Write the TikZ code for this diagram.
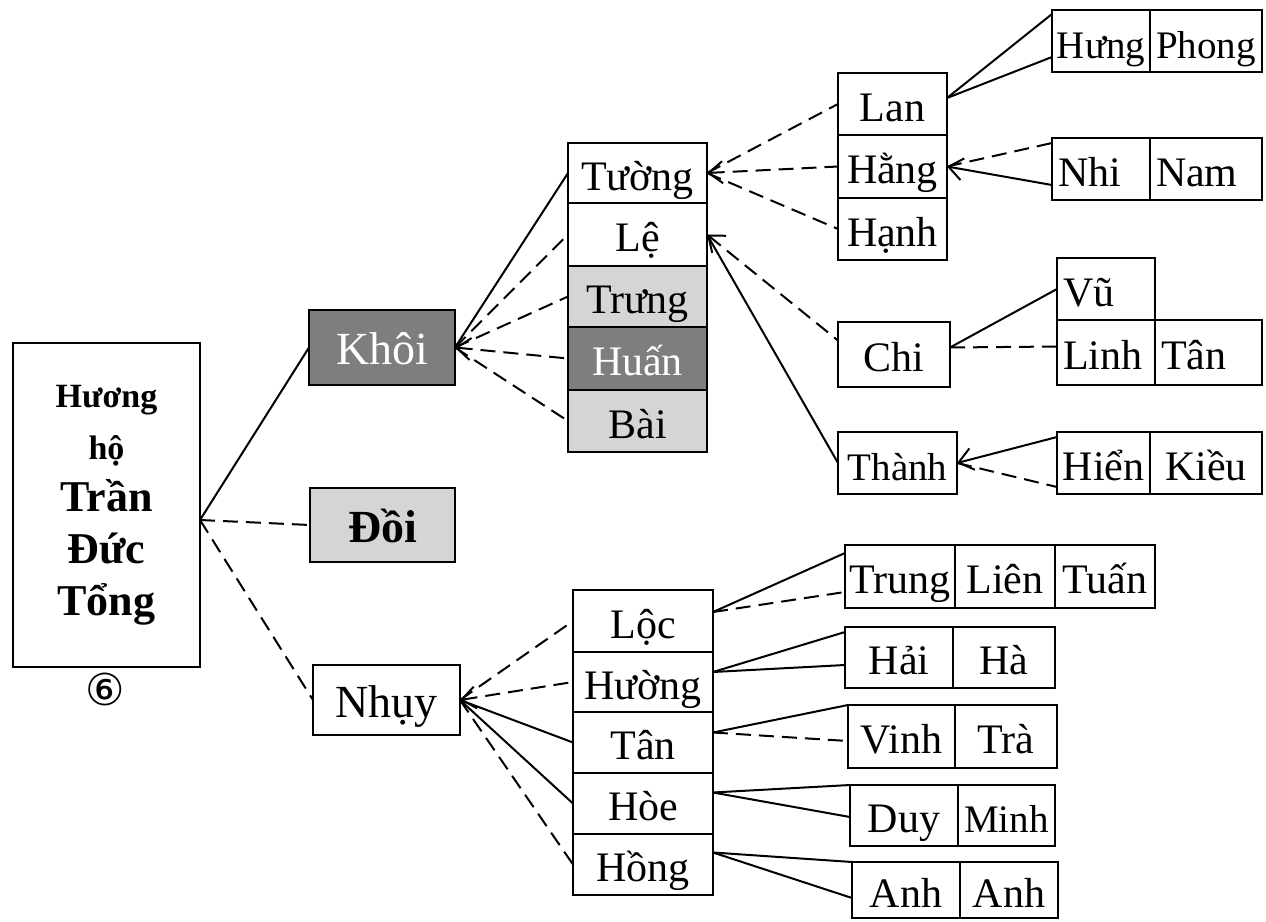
\documentclass[tikz,border=0pt]{standalone}
\usepackage{fontspec}
\setmainfont{Liberation Serif}
\newfontfamily\symfont{DejaVu Sans}
\usetikzlibrary{arrows.meta}

\definecolor{shadelight}{HTML}{D5D5D5}
\definecolor{shadedark}{HTML}{7E7E7E}

% a box given by its corners (x1,y1) and (x2,y2), in pixel-like units
\newcommand\cellbox[7]{%
  \node[#1, minimum width={(#5-#3)*0.5pt}, minimum height={(#6-#4)*0.5pt}]
    (#2) at ({(#3+#5)/2},{(#4+#6)/2}) {#7};}
% the same box with its text set flush left
\newcommand\lcellbox[7]{%
  \pgfmathsetmacro\cellwd{(#5-#3)*0.5}%
  \cellbox{#1}{#2}{#3}{#4}{#5}{#6}{\makebox[\cellwd pt][l]{\hspace{3pt}#7}}}

\tikzset{
  cell/.style={draw, line width=1pt, fill=white, inner sep=0pt, outer sep=0pt,
    font=\fontsize{21}{24}\selectfont, text height=21pt, text depth=4pt},
  tightcell/.style={cell, font=\fontsize{19.5}{24}\selectfont},
  bigcell/.style={cell, font=\fontsize{23}{26}\selectfont},
  lightcell/.style={cell, fill=shadelight},
  darkcell/.style={cell, fill=shadedark, text=white},
  rootbox/.style={draw, line width=1pt, inner sep=0pt, outer sep=0pt, align=center,
    font=\bfseries\fontsize{22}{26}\selectfont},
  plainlink/.style={line width=1pt},
  dashlink/.style={line width=1pt, dash pattern=on 7.5pt off 4pt},
  tipped/.style={arrows={Straight Barb[length=7pt,width=11pt,line width=1pt]-}},
}

\begin{document}
\begin{tikzpicture}[x=0.5pt, y=-0.5pt]
\useasboundingbox (0,0) rectangle (1266,922);

% family head
\cellbox{rootbox}{root}{13}{343}{200}{667}{%
  {\fontsize{17}{26}\selectfont Hương}\\ {\fontsize{17}{26}\selectfont hộ}\\ Trần\\ Đức\\ Tổng}
\node[font=\symfont\fontsize{22}{24}\selectfont] (six) at (105,689) {⑥};

% second generation
\cellbox{bigcell, fill=shadedark, text=white}{Khoi}{309}{310}{455}{385}{Khôi}
\cellbox{bigcell, fill=shadelight, font=\bfseries\fontsize{23}{26}\selectfont}{Doi}{310}{488}{455}{562}{Đồi}
\cellbox{bigcell}{Nhuy}{313}{665}{460}{735}{Nhụy}

% children of Khôi
\cellbox{cell}{Tuong}{568}{143}{707}{203}{Tường}
\cellbox{cell}{Le}{568}{203}{707}{266}{Lệ}
\cellbox{lightcell}{Trg}{568}{266}{707}{327}{Trưng}
\cellbox{darkcell}{Huan}{568}{327}{707}{390}{Huấn}
\cellbox{lightcell}{Bai}{568}{390}{707}{452}{Bài}

% children of Tường
\cellbox{cell}{Lan}{838}{73}{947}{135}{Lan}
\cellbox{cell}{Hang}{838}{135}{947}{198}{Hằng}
\cellbox{cell}{Hanh}{838}{198}{947}{260}{Hạnh}

\cellbox{tightcell}{Hung}{1052}{10}{1150}{72}{Hưng}
\cellbox{tightcell}{Phong}{1150}{10}{1262}{72}{Phong}
\lcellbox{cell}{Nhi}{1052}{138}{1150}{200}{Nhi}
\lcellbox{cell}{Nam}{1150}{138}{1262}{200}{Nam}

% children of Lệ
\cellbox{cell}{Chi}{838}{322}{950}{387}{Chi}
\cellbox{tightcell}{Thanh}{838}{432}{957}{494}{Thành}

\lcellbox{cell}{Vu}{1057}{258}{1155}{320}{Vũ}
\lcellbox{cell}{Linh}{1057}{320}{1155}{385}{Linh}
\lcellbox{cell}{TanA}{1155}{320}{1262}{385}{Tân}
\cellbox{cell}{Hien}{1057}{432}{1150}{494}{Hiển}
\cellbox{cell}{Kieu}{1150}{432}{1262}{494}{Kiều}

% children of Nhụy
\cellbox{cell}{Loc}{573}{590}{713}{652}{Lộc}
\cellbox{cell}{Huong}{573}{652}{713}{712}{Hường}
\cellbox{cell}{Tan}{573}{712}{713}{773}{Tân}
\cellbox{cell}{Hoe}{573}{773}{713}{834}{Hòe}
\cellbox{cell}{Hong}{573}{834}{713}{895}{Hồng}

\cellbox{cell}{Trung}{845}{545}{955}{608}{Trung}
\cellbox{cell}{Lien}{955}{545}{1055}{608}{Liên}
\cellbox{cell}{Tuan}{1055}{545}{1155}{608}{Tuấn}
\cellbox{cell}{Hai}{845}{627}{953}{688}{Hải}
\cellbox{cell}{Ha}{953}{627}{1055}{688}{Hà}
\cellbox{cell}{Vinh}{848}{705}{955}{768}{Vinh}
\cellbox{cell}{Tra}{955}{705}{1057}{768}{Trà}
\cellbox{cell}{Duy}{850}{785}{958}{846}{Duy}
\cellbox{tightcell}{Minh}{958}{785}{1055}{846}{Minh}
\cellbox{cell}{AnhA}{852}{862}{960}{918}{Anh}
\cellbox{cell}{AnhB}{960}{862}{1058}{918}{Anh}

% links from the family head
\draw[plainlink] ([yshift=-7.5pt]root.east) -- (Khoi.west);
\draw[dashlink] ([yshift=-7.5pt]root.east) -- (Doi.west);
\draw[dashlink] ([yshift=-7.5pt]root.east) -- (Nhuy.west);

% links from Khôi
\draw[plainlink] (Khoi.east) -- (Tuong.west);
\draw[dashlink] (Khoi.east) -- (Le.west);
\draw[dashlink] (Khoi.east) -- (Trg.west);
\draw[dashlink, tipped] (Khoi.east) -- (Huan.west);
\draw[dashlink] (Khoi.east) -- (Bai.west);

% links from Tường and Lệ
\draw[dashlink] (Tuong.east) -- (Lan.west);
\draw[dashlink, tipped] (Tuong.east) -- (Hang.west);
\draw[dashlink] (Tuong.east) -- (Hanh.west);
\draw[dashlink, tipped] (Le.east) -- ([yshift=7pt]Chi.west);
\draw[plainlink] (Le.east) -- (Thanh.west);

% links to the grandchildren
\draw[plainlink] ([yshift=3pt]Lan.east) -- ([yshift=-2pt]Hung.north west);
\draw[plainlink] ([yshift=3pt]Lan.east) -- ([yshift=7.5pt]Hung.south west);
\draw[dashlink] (Hang.east) -- ([yshift=-2.5pt]Nhi.north west);
\draw[plainlink, tipped] (Hang.east) -- ([yshift=7.5pt]Nhi.south west);
\draw[plainlink] ([yshift=3.5pt]Chi.east) -- (Vu.west);
\draw[dashlink] ([yshift=3.5pt]Chi.east) -- ([yshift=3pt]Linh.west);
\draw[plainlink, tipped] (Thanh.east) -- ([yshift=-2.5pt]Hien.north west);
\draw[dashlink] (Thanh.east) -- ([yshift=3.5pt]Hien.south west);

% links from Nhụy
\draw[dashlink] (Nhuy.east) -- (Loc.west);
\draw[dashlink, tipped] (Nhuy.east) -- (Huong.west);
\draw[plainlink] (Nhuy.east) -- (Tan.west);
\draw[plainlink] (Nhuy.east) -- (Hoe.west);
\draw[dashlink] (Nhuy.east) -- (Hong.west);

\draw[plainlink] ([yshift=4.5pt]Loc.east) -- ([yshift=-4pt]Trung.north west);
\draw[dashlink] ([yshift=4.5pt]Loc.east) -- ([yshift=8pt]Trung.south west);
\draw[plainlink] ([yshift=5pt]Huong.east) -- ([yshift=-2.5pt]Hai.north west);
\draw[plainlink] ([yshift=5pt]Huong.east) -- ([yshift=11.5pt]Hai.south west);
\draw[plainlink] ([yshift=5pt]Tan.east) -- (Vinh.north west);
\draw[dashlink] ([yshift=5pt]Tan.east) -- ([yshift=13.5pt]Vinh.south west);
\draw[plainlink] ([yshift=5.5pt]Hoe.east) -- (Duy.north west);
\draw[plainlink] ([yshift=5.5pt]Hoe.east) -- ([yshift=14.5pt]Duy.south west);
\draw[plainlink] ([yshift=6pt]Hong.east) -- (AnhA.north west);
\draw[plainlink] ([yshift=6pt]Hong.east) -- ([yshift=10pt]AnhA.south west);
\end{tikzpicture}
\end{document}
